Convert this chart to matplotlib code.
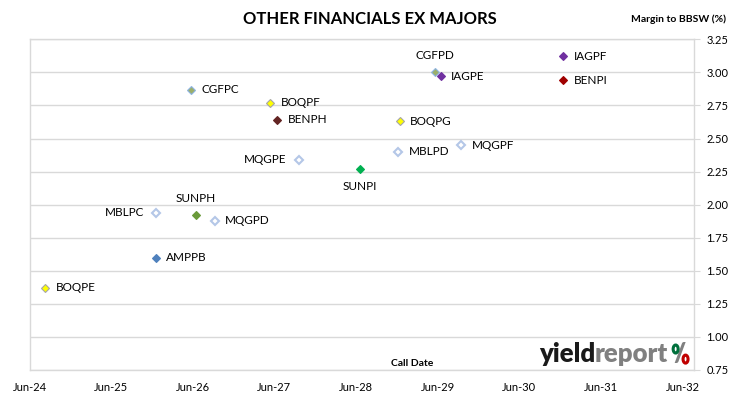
import pandas as pd
import matplotlib
matplotlib.use("Agg")
import matplotlib.pyplot as plt
import matplotlib.dates as mdates
from matplotlib.patches import Ellipse

plt.rcParams['font.family'] = ['Lato', 'DejaVu Sans']

# call date and margin for each security
names = ['BOQPE', 'MBLPC', 'AMPPB', 'CGFPC', 'SUNPH', 'MQGPD', 'BOQPF', 'BENPH', 'MQGPE',
         'SUNPI', 'MBLPD', 'BOQPG', 'CGFPD', 'IAGPE', 'MQGPF', 'IAGPF', 'BENPI']
call_dates = ['2024-08-10', '2025-12-20', '2025-12-17', '2026-05-24', '2026-06-16', '2026-09-07',
              '2027-05-12', '2027-06-13', '2027-09-17', '2028-06-16', '2028-12-06', '2028-12-12',
              '2029-05-21', '2029-06-13', '2029-09-13', '2030-12-14', '2030-12-14']
margins = [1.37, 1.94, 1.60, 2.87, 1.92, 1.88, 2.77, 2.64, 2.34,
           2.27, 2.40, 2.63, 3.00, 2.97, 2.45, 3.12, 2.94]

# marker face / edge colours
faces = ['#FFFF00', 'white', '#4F81BD', '#9BAF6A', '#6A9A3A', 'white', '#FFFF00', '#632523', 'white',
         '#00B050', 'white', '#FFFF00', '#9BAF6A', '#7030A0', 'white', '#7030A0', '#A00000']
edges = ['#A6A6A6', '#B4C7E7', '#4F81BD', '#8EB4E3', '#6A9A3A', '#B4C7E7', '#A6A6A6', '#632523', '#B4C7E7',
         '#00B050', '#B4C7E7', '#A6A6A6', '#8EB4E3', '#7030A0', '#B4C7E7', '#7030A0', '#A00000']
# where the label sits relative to the point
label_side = ['r', 'l', 'r', 'r', 't', 'r', 'r', 'r', 'l',
              'b', 'r', 'r', 't', 'r', 'r', 'r', 'r']

tick_years = list(range(2024, 2033))
tick_labels = ['Jun-%02d' % (y % 100) for y in tick_years]

x = mdates.date2num(pd.to_datetime(call_dates))

fig = plt.figure(figsize=(7.3, 3.99), dpi=100)
ax = fig.add_axes([0.0407, 0.0727, 0.9100, 0.8288])

for i in range(len(names)):
    lw = 1.5 if faces[i] == 'white' else 0.8
    ax.plot(x[i], margins[i], marker='D', ms=3.6, mfc=faces[i], mec=edges[i], mew=lw,
            linestyle='none', zorder=3)
    s = label_side[i]
    if s == 'r':
        off, ha, va = (7.5, 0), 'left', 'center'
    elif s == 'l':
        off, ha, va = (-9, 0), 'right', 'center'
    elif s == 't':
        off, ha, va = (0, 12), 'center', 'center'
    else:
        off, ha, va = (0, -13), 'center', 'center'
    ax.annotate(names[i], (x[i], margins[i]), xytext=off, textcoords='offset points',
                ha=ha, va=va, fontsize=8.5, color='black')

start = mdates.date2num(pd.Timestamp('2024-06-01'))
ax.set_xlim(start + 5, start + 2972)
ax.set_ylim(0.75, 3.25)
ax.set_yticks([0.75 + 0.25 * k for k in range(11)])
ax.yaxis.tick_right()
ax.yaxis.set_major_formatter(plt.FormatStrFormatter('%.2f'))
ax.tick_params(axis='y', length=4, color='#D9D9D9', pad=5, labelsize=8)
ax.set_xticks(mdates.date2num(pd.to_datetime(['%d-06-01' % y for y in tick_years])))
ax.set_xticklabels(tick_labels)
ax.tick_params(axis='x', length=0, pad=9, labelsize=8)

ax.grid(axis='y', color='#D9D9D9', linewidth=1)
ax.set_axisbelow(True)
for side in ['left', 'right', 'bottom', 'top']:
    ax.spines[side].set_color('#D9D9D9')
    ax.spines[side].set_linewidth(1)

fig.text(0.507, 0.952, 'OTHER FINANCIALS EX MAJORS', ha='center', va='center',
         fontsize=12, fontweight='bold')
fig.text(0.995, 0.952, 'Margin to BBSW (%)', ha='right', va='center', fontsize=7.5, fontweight='bold')
fig.text(0.564, 0.09, 'Call Date', ha='center', va='center', fontsize=7.5, fontweight='bold')

# yieldreport logo
t1 = fig.text(0.738, 0.112, 'yield', ha='left', va='center', fontsize=18.5, fontweight='heavy', color='#1A1A1A')
t2 = ax.annotate('report', xy=(1, 0), xycoords=t1, ha='left', va='bottom', fontsize=18.5,
                 fontweight='heavy', color='#808080')
t3 = ax.annotate('/', xy=(1, 0), xycoords=t2, xytext=(4, 0), textcoords='offset points',
                 ha='left', va='bottom', fontsize=18.5, fontweight='heavy', color='#808080')

# the two coloured zeros of the % sign, placed beside the slash
fig.canvas.draw()
bb = t3.get_window_extent()
fig.patches.append(Ellipse((bb.x0 + 0.15 * bb.width, bb.y0 + 0.72 * bb.height), 5, 8,
                           transform=None, fc='none', ec='#00703C', lw=2.2))
fig.patches.append(Ellipse((bb.x1 - 0.05 * bb.width, bb.y0 + 0.3 * bb.height), 5, 8,
                           transform=None, fc='none', ec='#C00000', lw=2.2))

fig.savefig('out.png', dpi=100)
